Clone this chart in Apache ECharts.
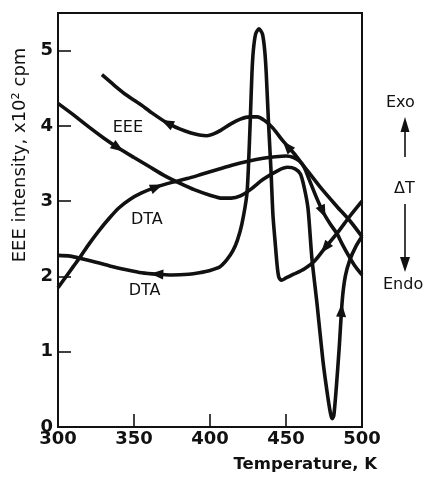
<!DOCTYPE html>
<html><head><meta charset="utf-8">
<script src="https://cdn.jsdelivr.net/npm/echarts@6/dist/echarts.min.js"></script>
<style>html,body{margin:0;padding:0;background:#fff}#c{width:432px;height:478px}</style>
</head><body><div id="c"></div>
<script>
// ---- data ----
const xTicks = [300, 350, 400, 450, 500];
const yTicks = [0, 1, 2, 3, 4, 5];

// EEE on heating (left to right)
const eeeHeating = [
  [300,4.30],[310,4.15],[320,3.99],[330,3.84],[339.5,3.71],[350,3.58],[360,3.46],
  [370,3.34],[380,3.24],[390,3.15],[400,3.08],[408,3.04],[414,3.04],[420,3.07],[427,3.16],
  [435,3.29],[445,3.41],[451,3.45],[456,3.43],[459.5,3.36],[462,3.18],[464.5,2.90],
  [467,2.25],[470.5,1.62],[474.3,0.88],[477.5,0.40],[479.5,0.16],[480.5,0.11],[481.5,0.16],
  [483,0.50],[485,1.05],[487,1.68],[489,2.00],[492,2.22],[496,2.40],[500,2.53]
];
// EEE on cooling (right to left)
const eeeCooling = [
  [500,2.53],[492,2.74],[483.5,2.93],[472.4,3.19],[461.2,3.48],[455,3.64],[448,3.80],[441.4,3.97],
  [436,4.07],[431,4.12],[426,4.12],[420,4.09],[414,4.03],[407,3.94],[402,3.89],[398,3.87],
  [393,3.88],[387,3.91],[380,3.96],[371.7,4.04],[362,4.17],[353.9,4.29],[345,4.41],[337,4.54],
  [328.9,4.68]
];
// DTA on heating (left to right)
const dtaHeating = [
  [300,1.85],[305,1.99],[310,2.13],[315,2.27],[320,2.42],[327,2.61],[334,2.78],[340,2.91],
  [347,3.02],[355,3.11],[365,3.19],[375,3.25],[385,3.30],[395,3.36],[405,3.42],
  [415,3.48],[425,3.53],[435,3.57],[443,3.59],[450,3.60],[455,3.58],[459,3.53],[462,3.45],
  [465,3.30],[470,3.05],[474.3,2.86],[479,2.70],[483.5,2.57],[487,2.43],[490.8,2.29],
  [495,2.15],[500,2.02]
];
// DTA on cooling (right to left)
const dtaCooling = [
  [500,3.00],[492,2.80],[484.2,2.59],[475.7,2.38],[469,2.21],[462,2.10],[455,2.03],[450,1.98],
  [447,1.95],[445.3,1.99],[444.3,2.12],[443,2.42],[441.4,2.82],[440.1,3.42],[438.4,4.08],[437,4.70],
  [436,5.00],[434.5,5.22],[432.2,5.29],[430,5.22],[428.5,5.00],[427.6,4.70],[426.5,4.08],[425.2,3.42],
  [424.2,3.08],[421,2.70],[418,2.48],[415,2.34],[411,2.22],[406.6,2.13],[400,2.08],[393,2.05],
  [386,2.03],[375,2.02],[365,2.03],[355,2.05],[345,2.09],[334,2.14],[325,2.19],[315,2.24],
  [308,2.27],[300,2.28]
];
// direction arrows on the curves: [T, value, curve]
const arrowMarks = [
  [339.5,3.71,'eeeHeating'],[486.5,1.55,'eeeHeating'],
  [371.7,4.04,'eeeCooling'],[450.7,3.73,'eeeCooling'],
  [365,3.19,'dtaHeating'],[474.3,2.86,'dtaHeating'],
  [365,2.03,'dtaCooling'],[475.7,2.38,'dtaCooling']
];
// curve names written in the plot: [T, value, text]
const curveLabels = [
  [346,3.97,'EEE'],[358.5,2.75,'DTA'],[357,1.81,'DTA']
];
const xName = 'Temperature, K';
const yName = 'EEE intensity, x10\u00B2 cpm';

// ---- chart ----
const FONT = 'DejaVu Sans';
const curves = {eeeHeating, eeeCooling, dtaHeating, dtaCooling};
const lineSeries = Object.keys(curves).map(k => ({
  name: k, type: 'line', data: curves[k], showSymbol: false, smooth: 0.25,
  lineStyle: {color: '#111', width: 3.6}, z: 3, silent: true
}));
const labelSeries = {
  type: 'scatter', name: 'labels', symbolSize: 0, silent: true, z: 4,
  itemStyle: {opacity: 1},
  data: curveLabels.map(d => ({value: [d[0], d[1]], name: d[2]})),
  label: {show: true, position: 'inside', formatter: p => p.name,
    fontFamily: FONT, fontSize: 16, color: '#111', opacity: 1}
};

const option = {
  animation: false,
  backgroundColor: '#fff',
  grid: {left: 58, right: 70, top: 13, bottom: 51, show: true, borderColor: '#111', borderWidth: 2},
  xAxis: {
    type: 'value', min: 300, max: 500, interval: 50,
    name: xName, nameLocation: 'end', nameGap: 15,
    nameTextStyle: {fontFamily: FONT, fontSize: 16.5, fontWeight: 'bold', color: '#111',
      align: 'right', verticalAlign: 'top', padding: [29, 0, 0, 0]},
    axisLine: {lineStyle: {color: '#111', width: 2}},
    axisTick: {inside: true, length: 13, lineStyle: {color: '#111', width: 1.6}},
    axisLabel: {fontFamily: FONT, fontSize: 18, fontWeight: 'bold', color: '#111', margin: 3,
      formatter: v => xTicks.includes(v) ? String(v) : ''},
    splitLine: {show: false}
  },
  yAxis: {
    type: 'value', min: 0, max: 5.5, interval: 1,
    name: yName, nameLocation: 'middle', nameGap: 29, nameRotate: 90,
    nameTextStyle: {fontFamily: FONT, fontSize: 18, color: '#111', padding: [0, 0, 0, 130]},
    axisLine: {lineStyle: {color: '#111', width: 2}},
    axisTick: {inside: true, length: 13, lineStyle: {color: '#111', width: 1.6}},
    axisLabel: {fontFamily: FONT, fontSize: 18, fontWeight: 'bold', color: '#111', margin: 5,
      formatter: v => yTicks.includes(v) ? String(v) : ''},
    splitLine: {show: false}
  },
  series: lineSeries.concat([labelSeries]),
  graphic: [
    {type: 'text', left: 386, top: 95, style: {text: 'Exo', font: '16px "DejaVu Sans"', fill: '#111'}},
    {type: 'polygon', shape: {points: [[405,117],[400.5,132],[409.5,132]]}, style: {fill: '#111'}},
    {type: 'line', shape: {x1: 405, y1: 130, x2: 405, y2: 157}, style: {stroke: '#111', lineWidth: 1.6}},
    {type: 'text', left: 394, top: 181, style: {text: '\u0394T', font: '16px "DejaVu Sans"', fill: '#111'}},
    {type: 'line', shape: {x1: 405, y1: 204, x2: 405, y2: 259}, style: {stroke: '#111', lineWidth: 1.6}},
    {type: 'polygon', shape: {points: [[405,272],[400,257],[410,257]]}, style: {fill: '#111'}},
    {type: 'text', left: 383, top: 277, style: {text: 'Endo', font: '16px "DejaVu Sans"', fill: '#111'}}
  ]
};

const chart = echarts.init(document.getElementById('c'));
chart.setOption(option);

function arrowAngle(x, y, key) {
  const pts = curves[key].map(p => chart.convertToPixel({gridIndex: 0}, p));
  const q = chart.convertToPixel({gridIndex: 0}, [x, y]);
  let best = Infinity, bi = 0;
  for (let i = 0; i < pts.length - 1; i++) {
    const a = pts[i], b = pts[i + 1];
    const dx = b[0] - a[0], dy = b[1] - a[1];
    const L = dx * dx + dy * dy || 1;
    let t = ((q[0] - a[0]) * dx + (q[1] - a[1]) * dy) / L;
    t = Math.max(0, Math.min(1, t));
    const ex = a[0] + t * dx - q[0], ey = a[1] + t * dy - q[1];
    const d = ex * ex + ey * ey;
    if (d < best) { best = d; bi = i; }
  }
  const a = pts[bi], b = pts[bi + 1];
  return Math.atan2(-(b[0] - a[0]), -(b[1] - a[1])) * 180 / Math.PI;
}

chart.setOption({
  series: lineSeries.concat([
    labelSeries,
    {
      type: 'scatter', name: 'arrows', symbol: 'triangle', symbolSize: [10, 13], silent: true, z: 5,
      itemStyle: {color: '#111', opacity: 1},
      data: arrowMarks.map(d => ({value: [d[0], d[1]], symbolRotate: arrowAngle(d[0], d[1], d[2])}))
    }
  ])
});
</script>
</body></html>
